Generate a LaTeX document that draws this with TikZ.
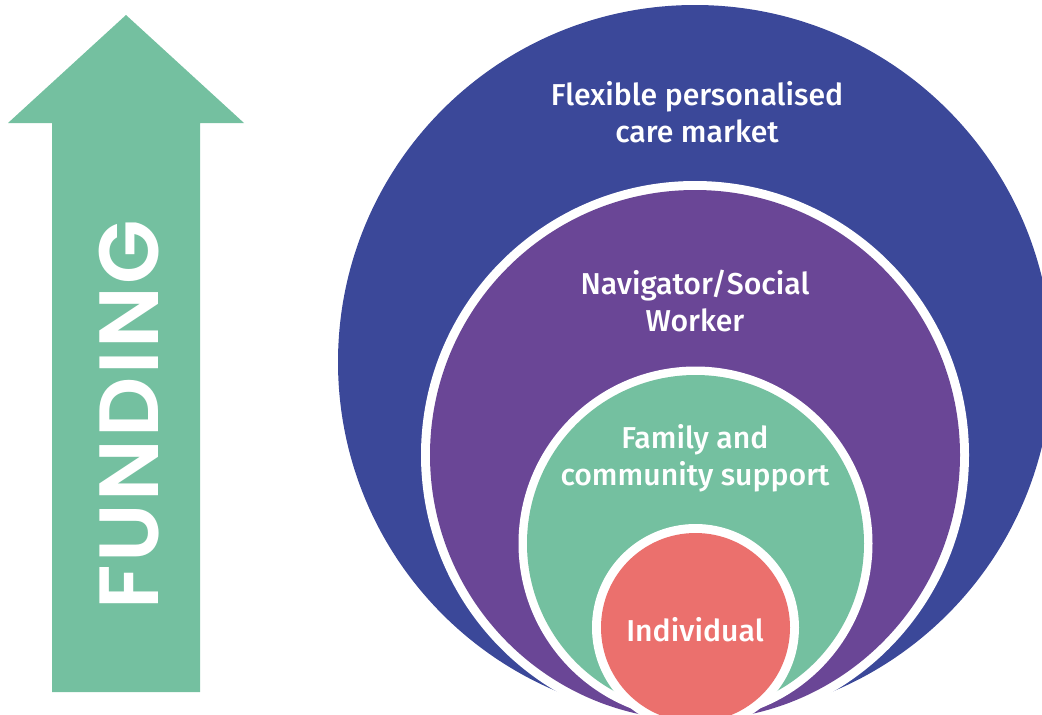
\documentclass[tikz,border=0pt]{standalone}
\usepackage{fontspec}
\setmainfont{Fira Sans Medium}
\newfontfamily\fundfont[LetterSpace=3]{Poppins SemiBold}
\definecolor{cblue}{HTML}{3B4899}
\definecolor{cpurple}{HTML}{6A4696}
\definecolor{cgreen}{HTML}{74C0A0}
\definecolor{cred}{HTML}{EB706D}
\tikzset{
  disc/.style={circle,inner sep=0pt,minimum size=#1},
  lab/.style={text=white,align=center,font=\fontsize{30.2}{37}\selectfont,inner sep=0pt},
}
\begin{document}
\begin{tikzpicture}[x=1pt,y=-1pt]
\useasboundingbox (0,0) rectangle (1042,715);
\begin{scope}
\clip (0,0) rectangle (1042,715);
\fill[cgreen] (126,15) -- (244,123) -- (200,123) -- (200,692) -- (52,692) -- (52,123) -- (8,123) -- cycle;
\node[disc=714pt,fill=cblue] (outer) at (695,362) {};
\node[disc=548pt,fill=white] (ring1) at (695,455) {};
\node[disc=530pt,fill=cpurple] (nav) at (695,455) {};
\node[disc=354pt,fill=white] (ring2) at (695.5,543.5) {};
\node[disc=337pt,fill=cgreen] (fam) at (695.5,543.5) {};
\node[disc=207pt,fill=white] (ring3) at (695.5,627.5) {};
\node[disc=189pt,fill=cred] (ind) at (695.5,627.5) {};
\end{scope}
\node[lab] (t1) at (697,112) {Flexible personalised\\care market};
\node[lab] (t2) at (695,301) {Navigator/Social\\Worker};
\node[lab] (t3) at (695,458.5) {Family and\\community support};
\node[lab] (t4) at (695,630) {Individual};
\node[text=white,rotate=90,inner sep=0pt,font=\fundfont\fontsize{84}{84}\selectfont] (fund) at (129,415) {FUNDING};
\end{tikzpicture}
\end{document}
